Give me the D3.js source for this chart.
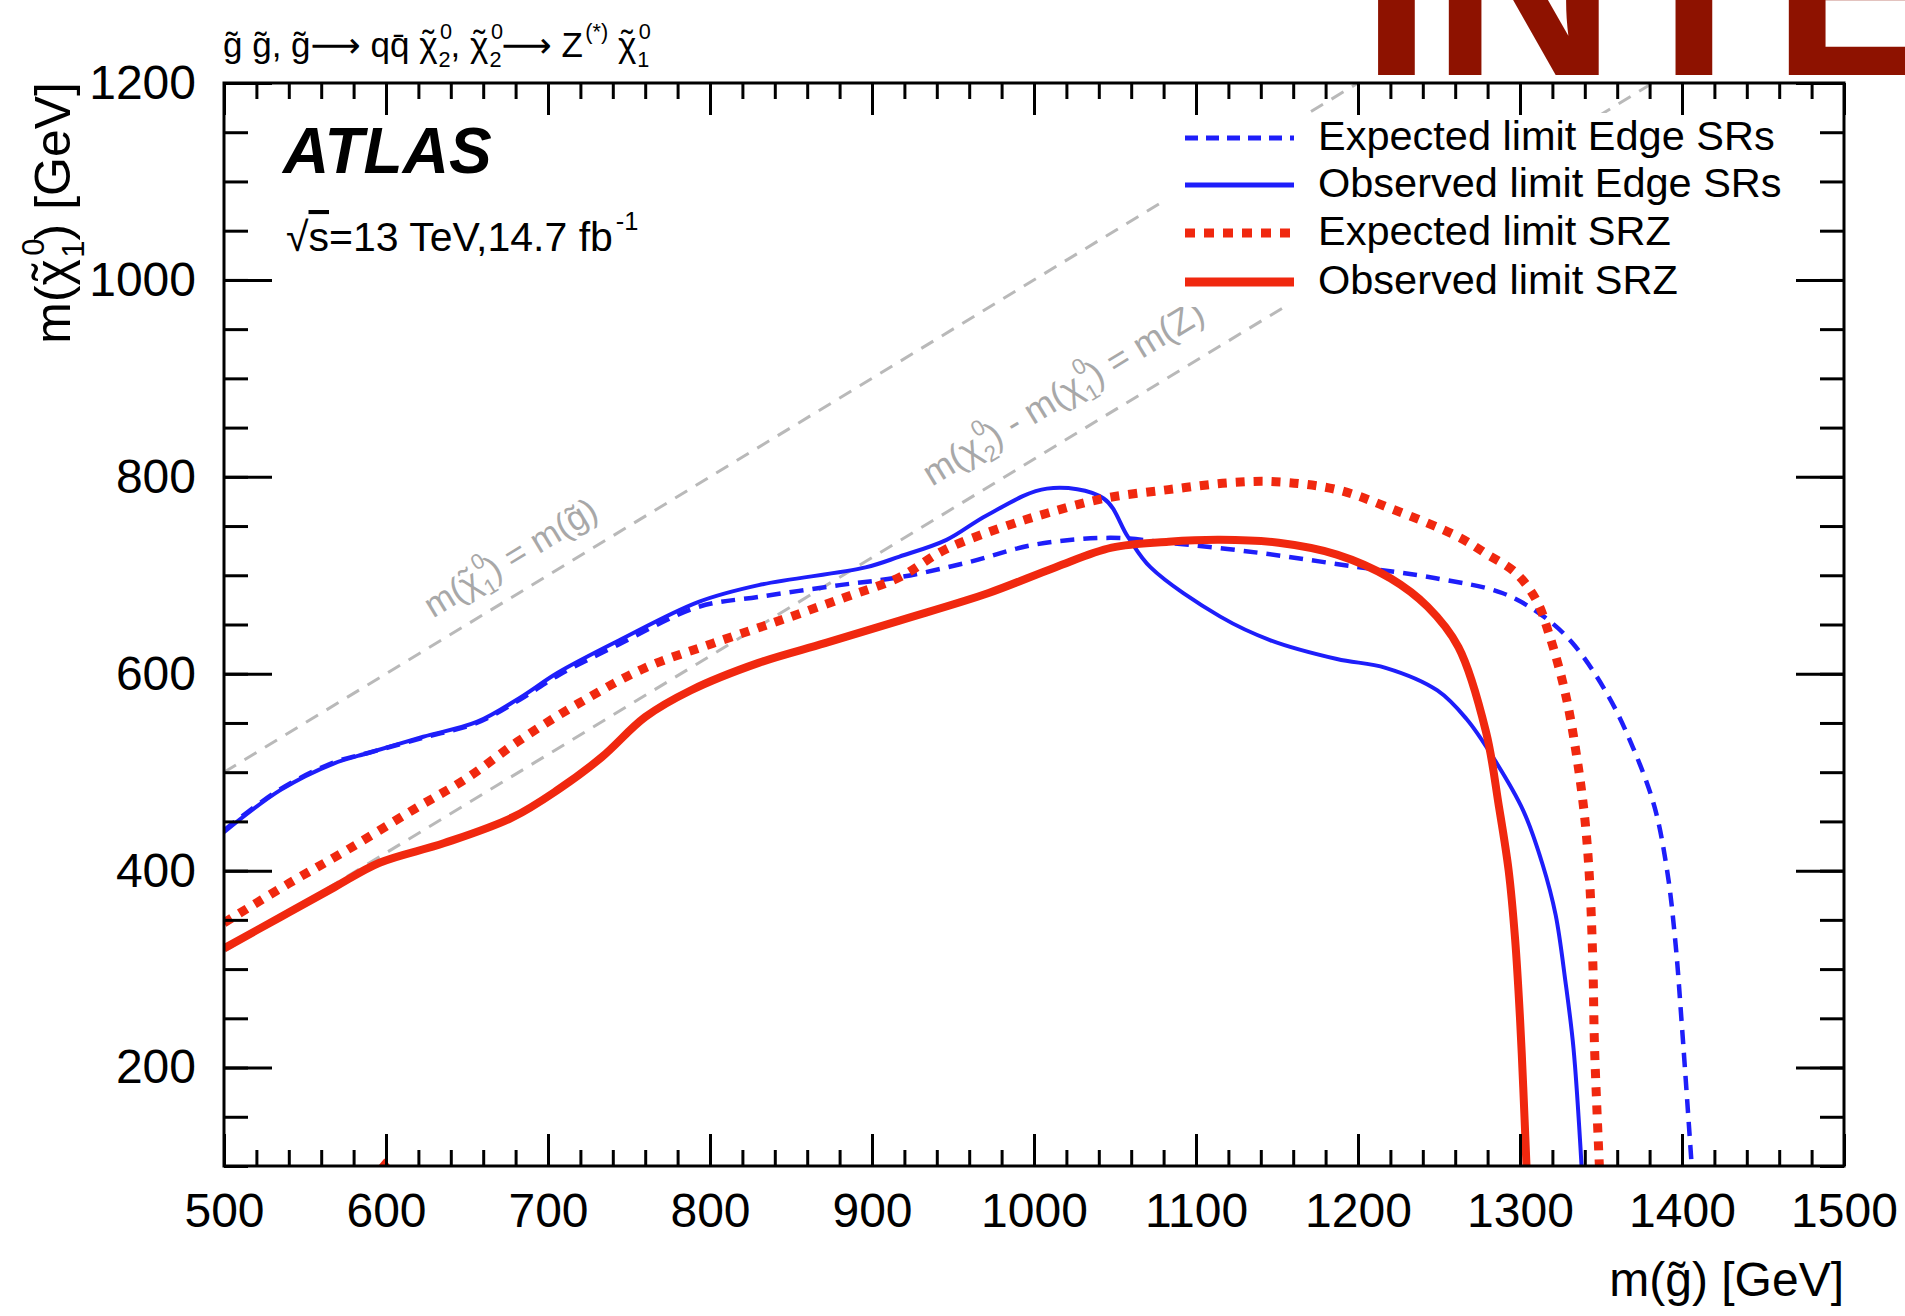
<!DOCTYPE html>
<html>
<head>
<meta charset="utf-8">
<script src="https://cdn.jsdelivr.net/npm/d3@7"></script>
<style>
  body { margin: 0; background: #fff; }
  svg { display: block; }
  text { font-family: "Liberation Sans", Arial, Helvetica, "DejaVu Sans", sans-serif; }
</style>
</head>
<body>
<svg id="chart" width="1905" height="1316"></svg>
<script>
// gluino mass (x) and neutralino mass (y) along each limit contour, GeV
var obsEdgeMg   = [500, 535, 568, 590, 623, 656, 683, 706, 744, 793, 830, 896, 917, 946, 971, 1008, 1043, 1058, 1072, 1115, 1146, 1187, 1217, 1249, 1267, 1283, 1302, 1314, 1322, 1328, 1333, 1338]
var obsEdgeMchi = [439, 482, 509, 520, 536, 551, 576, 601, 634, 673, 690, 708, 719, 736, 761, 788, 778, 739, 708, 658, 634, 615, 606, 583, 554, 516, 461, 406, 355, 288, 220, 100]

var expEdgeMg   = [500, 535, 568, 590, 623, 656, 683, 706, 744, 793, 830, 880, 917, 959, 1000, 1047, 1083, 1138, 1193, 1248, 1289, 1313, 1332, 1354, 1370, 1383, 1391, 1396, 1400, 1406]
var expEdgeMchi = [441, 483, 510, 520, 535, 550, 574, 598, 630, 668, 678, 690, 698, 713, 731, 738, 733, 723, 710, 697, 682, 660, 632, 579, 524, 465, 398, 326, 241, 100]

var expSRZMg   = [500, 540, 576, 617, 650, 683, 719, 760, 802, 843, 884, 917, 945, 981, 1008, 1043, 1083, 1121, 1149, 1187, 1220, 1262, 1279, 1297, 1310, 1318, 1328, 1335, 1340, 1343, 1345, 1346, 1349]
var expSRZMchi = [347, 387, 421, 462, 494, 533, 570, 606, 631, 654, 678, 698, 726, 749, 763, 778, 787, 794, 795, 787, 768, 739, 722, 703, 675, 640, 580, 516, 453, 389, 304, 221, 100]

var obsSRZMg   = [500, 535, 568, 596, 636, 678, 706, 733, 760, 788, 830, 871, 917, 972, 1013, 1048, 1083, 1115, 1151, 1187, 1220, 1243, 1262, 1279, 1287, 1293, 1297, 1300, 1302, 1304]
var obsSRZMchi = [321, 353, 383, 408, 428, 454, 482, 515, 556, 583, 611, 631, 654, 682, 708, 728, 734, 736, 733, 721, 697, 668, 627, 541, 465, 400, 330, 250, 180, 100]

// tiny leftover contour piece sitting on the x axis near 600 GeV
var obsSRZStubMg   = [596, 599, 602]
var obsSRZStubMchi = [100, 106, 100]

// kinematic reference lines
var diagMg   = [500, 1200]
var diagMchi = [500, 1200]
var zLineMg   = [500, 1382]
var zLineMchi = [318, 1200]

var xMajor = d3.range(500, 1501, 100)
var xMinor = d3.range(500, 1501, 20)
var yMajor = [200, 400, 600, 800, 1000, 1200]
var yMinor = d3.range(100, 1201, 50)

var legendNames = ['Expected limit Edge SRs', 'Observed limit Edge SRs', 'Expected limit SRZ', 'Observed limit SRZ']

var BLUE = '#1e1efa', RED = '#f0280f', GREY = '#b9b9b9'

var svg = d3.select('#chart')
var L = 224, R = 1844, T = 83, B = 1166

var x = d3.scaleLinear().domain([500, 1500]).range([L, R])
var y = d3.scaleLinear().domain([100, 1200]).range([B, T])

function zip (a, b) { return a.map(function (v, i) { return [v, b[i]] }) }

svg.append('defs').append('clipPath').attr('id', 'plotClip')
    .append('rect').attr('x', L).attr('y', T).attr('width', R - L).attr('height', B - T)

var plot = svg.append('g').attr('clip-path', 'url(#plotClip)')

var straight = d3.line().x(d => x(d[0])).y(d => y(d[1]))
var smooth = d3.line().x(d => x(d[0])).y(d => y(d[1])).curve(d3.curveCatmullRom.alpha(0.5))

// grey dashed reference lines
plot.append('path').attr('d', straight(zip(diagMg, diagMchi)))
    .attr('fill', 'none').attr('stroke', GREY).attr('stroke-width', 3).attr('stroke-dasharray', '14,10')
plot.append('path').attr('d', straight(zip(zLineMg, zLineMchi)))
    .attr('fill', 'none').attr('stroke', GREY).attr('stroke-width', 3).attr('stroke-dasharray', '14,10')

// ROOT-like latex: parts are strings or {b, tilde, sup, sub}; sup and sub get stacked
function latex (sel, parts, fs) {
    var backY = 0, backX = 0
    function piece (txt, size, dy, dx) {
        var t = sel.append('tspan').text(txt)
        if (size) t.attr('font-size', size)
        var d = (dy || 0) + backY
        var e = (dx || 0) + backX
        backY = 0; backX = 0
        if (d) t.attr('dy', d)
        if (e) t.attr('dx', e)
        return t
    }
    parts.forEach(function (p) {
        if (typeof p === 'string') { piece(p); return }
        if (p.b) {
            var bs = piece(p.b)
            if (p.tilde) {
                var wb = bs.node().getComputedTextLength()
                var tl = piece('\u02DC', null, -fs * 0.06)
                var tw = tl.node().getComputedTextLength()
                tl.attr('dx', -(wb + tw) / 2)
                backY = fs * 0.06
                backX = (wb - tw) / 2
            }
        }
        var sfs = fs * 0.62, w = 0, up = -fs * 0.52, down = fs * 0.28
        if (p.sup) {
            var gap = fs * 0.07
            var sp = piece(p.sup, sfs, up, gap)
            w = sp.node().getComputedTextLength() + gap
            backY = -up
        }
        if (p.sub) {
            piece(p.sub, sfs, down, p.sup ? -w + fs * 0.03 : 0)
            backY = -down
        }
    })
}

var angle = -Math.atan((y(500) - y(600)) / (x(600) - x(500))) * 180 / Math.PI

var lab1 = plot.append('text')
    .attr('transform', `translate(${x(629)},${y(656)}) rotate(${angle})`)
    .attr('font-size', 35).attr('fill', '#a8a8a8')
latex(lab1, ['m(', { b: 'χ', tilde: true, sup: '0', sub: '1' }, ') = m(g\u0303)'], 35)

var lab2 = plot.append('text')
    .attr('transform', `translate(${x(937)},${y(790)}) rotate(${angle})`)
    .attr('font-size', 36).attr('fill', '#a8a8a8')
latex(lab2, ['m(', { b: 'χ', sup: '0', sub: '2' }, ') - m(', { b: 'χ', sup: '0', sub: '1' }, ') = m(Z)'], 36)

// legend box hides the reference lines behind it
svg.append('rect').attr('x', 1162).attr('y', 113).attr('width', 630).attr('height', 194).attr('fill', '#fff')

// limit contours
plot.append('path').attr('d', smooth(zip(expEdgeMg, expEdgeMchi)))
    .attr('fill', 'none').attr('stroke', BLUE).attr('stroke-width', 4.5).attr('stroke-dasharray', '14,9')
plot.append('path').attr('d', smooth(zip(obsEdgeMg, obsEdgeMchi)))
    .attr('fill', 'none').attr('stroke', BLUE).attr('stroke-width', 4)
plot.append('path').attr('d', smooth(zip(expSRZMg, expSRZMchi)))
    .attr('fill', 'none').attr('stroke', RED).attr('stroke-width', 9).attr('stroke-dasharray', '9,9')
plot.append('path').attr('d', smooth(zip(obsSRZMg, obsSRZMchi)))
    .attr('fill', 'none').attr('stroke', RED).attr('stroke-width', 8).attr('stroke-linejoin', 'round')
plot.append('path').attr('d', straight(zip(obsSRZStubMg, obsSRZStubMchi)))
    .attr('fill', RED).attr('stroke', RED).attr('stroke-width', 2)

// axes, ticks pointing inwards like ROOT
function axisStyle (g) {
    g.select('.domain').remove()
    g.selectAll('line').attr('stroke', '#000').attr('stroke-width', 3)
}
svg.append('g').attr('transform', `translate(0,${B})`)
    .call(d3.axisBottom(x).tickValues(xMinor).tickSize(-16).tickFormat(''))
    .call(axisStyle)
svg.append('g').attr('transform', `translate(0,${B})`)
    .call(d3.axisBottom(x).tickValues(xMajor).tickSize(-32).tickPadding(27).tickFormat(d3.format('d')))
    .call(axisStyle)
svg.append('g').attr('transform', `translate(0,${T})`)
    .call(d3.axisTop(x).tickValues(xMinor).tickSize(-16).tickFormat(''))
    .call(axisStyle)
svg.append('g').attr('transform', `translate(0,${T})`)
    .call(d3.axisTop(x).tickValues(xMajor).tickSize(-32).tickFormat(''))
    .call(axisStyle)
svg.append('g').attr('transform', `translate(${L},0)`)
    .call(d3.axisLeft(y).tickValues(yMinor).tickSize(-24).tickFormat(''))
    .call(axisStyle)
svg.append('g').attr('transform', `translate(${L},0)`)
    .call(d3.axisLeft(y).tickValues(yMajor).tickSize(-48).tickPadding(28).tickFormat(d3.format('d')))
    .call(axisStyle)
svg.append('g').attr('transform', `translate(${R},0)`)
    .call(d3.axisRight(y).tickValues(yMinor).tickSize(-24).tickFormat(''))
    .call(axisStyle)
svg.append('g').attr('transform', `translate(${R},0)`)
    .call(d3.axisRight(y).tickValues(yMajor).tickSize(-48).tickFormat(''))
    .call(axisStyle)
svg.selectAll('.tick text').attr('font-size', 48).attr('fill', '#000')
    .attr('font-family', '"Liberation Sans", Arial, sans-serif')

svg.append('rect').attr('x', L).attr('y', T).attr('width', R - L).attr('height', B - T)
    .attr('fill', 'none').attr('stroke', '#000').attr('stroke-width', 3)

// axis titles
svg.append('text').attr('x', 1844).attr('y', 1296).attr('text-anchor', 'end')
    .attr('font-size', 48).text('m(g\u0303) [GeV]')
var yt = svg.append('text').attr('transform', 'translate(70,82) rotate(-90)')
    .attr('text-anchor', 'end').attr('font-size', 50)
latex(yt, ['m(', { b: 'χ', tilde: true, sup: '0', sub: '1' }, ') [GeV]'], 50)

// header and labels
var hd = svg.append('text').attr('x', 223).attr('y', 57).attr('font-size', 35)
latex(hd, ['g\u0303 g\u0303, g\u0303\u27F6 qq\u0304 ', { b: 'χ', tilde: true, sup: '0', sub: '2' }, ', ',
    { b: 'χ', tilde: true, sup: '0', sub: '2' }, '\u27F6 Z', { sup: '(*)' }, ' ', { b: 'χ', tilde: true, sup: '0', sub: '1' }], 35)

svg.append('text').attr('x', 283).attr('y', 173).attr('font-size', 64)
    .attr('font-weight', 'bold').attr('font-style', 'italic').text('ATLAS')
var lumi = svg.append('text').attr('x', 286).attr('y', 251).attr('font-size', 41)
lumi.append('tspan').text('\u221A')
lumi.append('tspan').attr('text-decoration', 'overline').text('s')
latex(lumi, ['=13 TeV,14.7 fb', { sup: '-1' }], 41)

// legend
var legY = [138, 185, 233, 282]
var legStyles = [
    { c: BLUE, w: 5, dash: '13,8' },
    { c: BLUE, w: 5, dash: null },
    { c: RED, w: 9, dash: '10,9' },
    { c: RED, w: 9, dash: null }
]
legendNames.forEach(function (name, i) {
    svg.append('line').attr('x1', 1185).attr('x2', 1294).attr('y1', legY[i]).attr('y2', legY[i])
        .attr('stroke', legStyles[i].c).attr('stroke-width', legStyles[i].w)
        .attr('stroke-dasharray', legStyles[i].dash)
    svg.append('text').attr('x', 1318).attr('y', legY[i] + 12).attr('font-size', 41.5).text(name)
})

// big cut-off banner text at the top right of the screenshot
svg.append('text').attr('x', 1361).attr('y', 75).attr('font-size', 255)
    .attr('font-weight', 'bold').attr('fill', '#8e1200').text('INTE')
</script>
</body>
</html>
